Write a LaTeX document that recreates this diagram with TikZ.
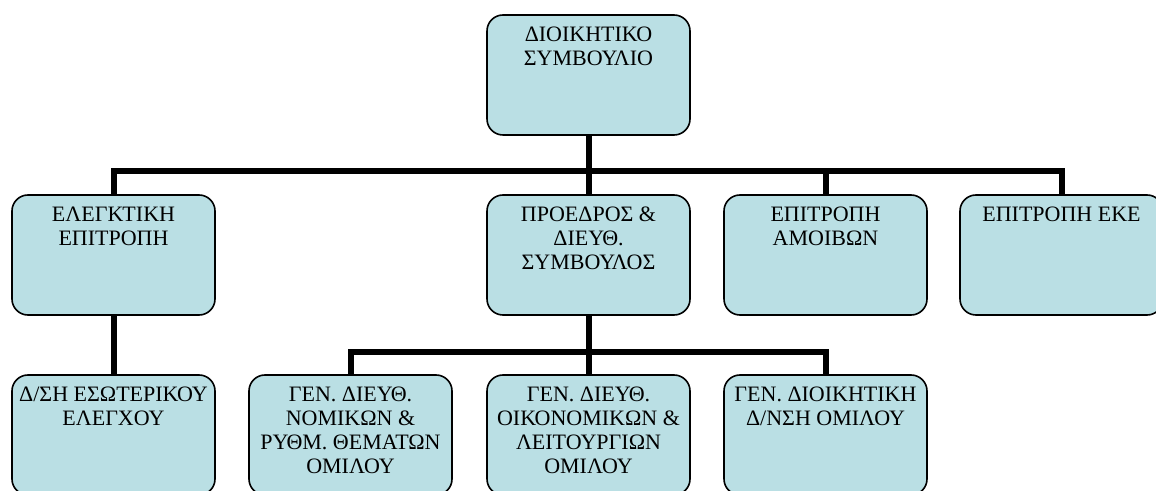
\documentclass[tikz,border=0pt]{standalone}
\usepackage{fontspec}
\setmainfont{Liberation Serif}
\usepackage{xcolor}
\usepackage{tikz}
\definecolor{boxblue}{RGB}{186,223,228}
\tikzstyle{orgbox} = [draw, line width=1.2pt, rounded corners=12pt, fill=boxblue,
  minimum width=152.25pt, minimum height=90pt, inner xsep=2pt, inner ysep=9pt,
  font=\fontsize{16.5}{18}\selectfont,
  execute at begin node={\begin{minipage}[t][72pt][t]{148pt}\centering},
  execute at end node={\end{minipage}}]
\tikzstyle{orgline} = [line width=4.5pt]

\begin{document}
\begin{tikzpicture}[x=0.75pt, y=-0.75pt]
            \useasboundingbox (0,0) rectangle (1156,491);

            \node[orgbox] (ds) at (588.5,75) {ΔΙΟΙΚΗΤΙΚΟ\\ΣΥΜΒΟΥΛΙΟ};

            \node[orgbox] (elegk) at (113.5,255) {ΕΛΕΓΚΤΙΚΗ\\ΕΠΙΤΡΟΠΗ};
            \node[orgbox] (proedr) at (588.5,255) {ΠΡΟΕΔΡΟΣ \&\\ΔΙΕΥΘ.\\ΣΥΜΒΟΥΛΟΣ};
            \node[orgbox] (amoib) at (825.5,255) {ΕΠΙΤΡΟΠΗ\\ΑΜΟΙΒΩΝ};
            \node[orgbox] (eke) at (1061.5,255) {ΕΠΙΤΡΟΠΗ ΕΚΕ};

            \node[orgbox] (dse) at (113.5,435) {Δ/ΣΗ ΕΣΩΤΕΡΙΚΟΥ\\ΕΛΕΓΧΟΥ};
            \node[orgbox] (gdn) at (350.5,435) {ΓΕΝ. ΔΙΕΥΘ.\\ΝΟΜΙΚΩΝ \&\\ΡΥΘΜ. ΘΕΜΑΤΩΝ\\ΟΜΙΛΟΥ};
            \node[orgbox] (gdo) at (588.5,435) {ΓΕΝ. ΔΙΕΥΘ.\\ΟΙΚΟΝΟΜΙΚΩΝ \&\\ΛΕΙΤΟΥΡΓΙΩΝ\\ΟΜΙΛΟΥ};
            \node[orgbox] (gdd) at (825.5,435) {ΓΕΝ. ΔΙΟΙΚΗΤΙΚΗ\\Δ/ΝΣΗ ΟΜΙΛΟΥ};

            \coordinate (bar1) at (0,171);
            \coordinate (bar2) at (0,352);

            \draw[orgline] (ds.south) -- (ds.south |- bar1);
            \draw[orgline] (elegk.north) -- (elegk.north |- bar1) -| (eke.north);
            \draw[orgline] (proedr.north) -- (proedr.north |- bar1);
            \draw[orgline] (amoib.north) -- (amoib.north |- bar1);

            \draw[orgline] (elegk.south) -- (dse.north);

            \draw[orgline] (proedr.south) -- (proedr.south |- bar2);
            \draw[orgline] (gdn.north) -- (gdn.north |- bar2) -| (gdd.north);
            \draw[orgline] (gdo.north) -- (gdo.north |- bar2);
        \end{tikzpicture}
\end{document}
